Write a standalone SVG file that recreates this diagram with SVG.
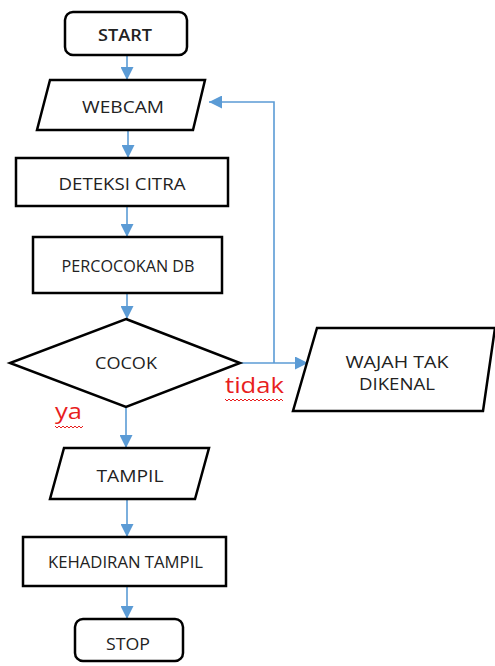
<svg xmlns="http://www.w3.org/2000/svg" width="495" height="666" viewBox="0 0 495 666">
<style>
.s{fill:#fff;stroke:#000;stroke-width:2.5;stroke-linejoin:miter}
.t{font-family:"Open Sans","Liberation Sans",sans-serif;font-size:15.5px;fill:#222;text-anchor:middle}
.c{fill:none;stroke:#5B9BD5;stroke-width:1.6}
.r{font-family:"Open Sans","Liberation Sans",sans-serif;font-size:21px;fill:#E81E1E}
.w{fill:none;stroke:#E81E1E;stroke-width:1}
</style>
<defs>
<marker id="b" viewBox="0 0 12 12" refX="12" refY="6" markerWidth="13" markerHeight="13" markerUnits="userSpaceOnUse" orient="auto">
<path d="M0,0 L12,6 L0,12 z" fill="#5B9BD5"/>
</marker>
</defs>
<g id="connectors">
<path class="c" d="M127,55 V80" marker-end="url(#b)"/>
<path class="c" d="M128,130 V158" marker-end="url(#b)"/>
<path class="c" d="M127,206 V237" marker-end="url(#b)"/>
<path class="c" d="M127,293 V319" marker-end="url(#b)"/>
<path class="c" d="M240,363 H308" marker-end="url(#b)"/>
<path class="c" d="M274,363 V102 H209" marker-end="url(#b)"/>
<path class="c" d="M126,407 V448" marker-end="url(#b)"/>
<path class="c" d="M127,499 V537" marker-end="url(#b)"/>
<path class="c" d="M127,586 V619" marker-end="url(#b)"/>
</g>
<g id="start"><rect class="s" x="65" y="12" width="122" height="43" rx="8"/><text class="t" x="125" y="41" textLength="54" lengthAdjust="spacingAndGlyphs" font-weight="600">START</text></g>
<g id="webcam"><polygon class="s" points="50,80 205,80 193,130 37,130"/><text class="t" x="123" y="113" textLength="82" lengthAdjust="spacingAndGlyphs">WEBCAM</text></g>
<g id="deteksi"><rect class="s" x="16" y="158" width="212" height="48"/><text class="t" x="122" y="190" textLength="127" lengthAdjust="spacingAndGlyphs">DETEKSI CITRA</text></g>
<g id="percocokan"><rect class="s" x="33" y="237" width="189" height="56"/><text class="t" x="128" y="272" textLength="133" lengthAdjust="spacingAndGlyphs">PERCOCOKAN DB</text></g>
<g id="cocok"><polygon class="s" points="126,319 240,363 126,407 10,363"/><text class="t" x="126" y="369" textLength="62" lengthAdjust="spacingAndGlyphs">COCOK</text></g>
<g id="wajah"><polygon class="s" points="317,328 495,328 483,411 293,411"/><text class="t" x="397" y="368" textLength="103" lengthAdjust="spacingAndGlyphs">WAJAH TAK</text><text class="t" x="397" y="390" textLength="76" lengthAdjust="spacingAndGlyphs">DIKENAL</text></g>
<g id="tampil"><polygon class="s" points="64,448 209,448 195,499 50,499"/><text class="t" x="130" y="482" textLength="67" lengthAdjust="spacingAndGlyphs">TAMPIL</text></g>
<g id="kehadiran"><rect class="s" x="23" y="537" width="203" height="49"/><text class="t" x="125.5" y="568" textLength="155" lengthAdjust="spacingAndGlyphs">KEHADIRAN TAMPIL</text></g>
<g id="stop"><rect class="s" x="75" y="619" width="108" height="42" rx="8"/><text class="t" x="128" y="650" textLength="44" lengthAdjust="spacingAndGlyphs">STOP</text></g>
<g id="labels">
<text class="r" x="225" y="393" textLength="59" lengthAdjust="spacingAndGlyphs">tidak</text>
<path class="w" d="M225,399 l2,2 l2,-2 l2,2 l2,-2 l2,2 l2,-2 l2,2 l2,-2 l2,2 l2,-2 l2,2 l2,-2 l2,2 l2,-2 l2,2 l2,-2 l2,2 l2,-2 l2,2 l2,-2 l2,2 l2,-2 l2,2 l2,-2 l2,2 l2,-2 l2,2 l2,-2 l2,2"/>
<text class="r" x="55" y="419" textLength="27" lengthAdjust="spacingAndGlyphs">ya</text>
<path class="w" d="M55,426 l2,2 l2,-2 l2,2 l2,-2 l2,2 l2,-2 l2,2 l2,-2 l2,2 l2,-2 l2,2 l2,-2 l2,2 l2,-2"/>
</g>
</svg>
